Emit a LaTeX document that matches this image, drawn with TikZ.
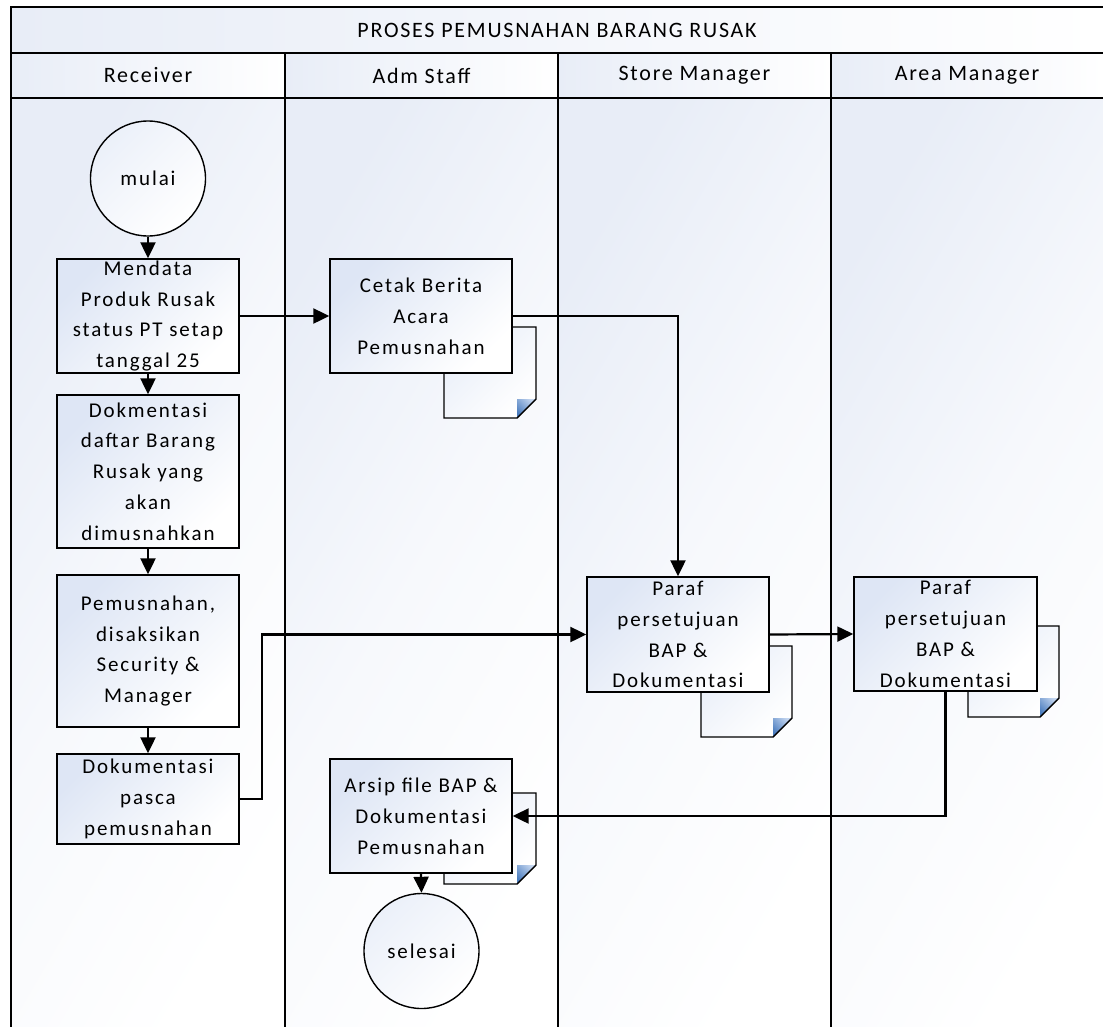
\documentclass[tikz,border=0pt]{standalone}
\usepackage{fontspec}
\setmainfont{Carlito}
\newfontfamily\boxfont[LetterSpace=9]{Carlito}
\newfontfamily\headfont[LetterSpace=8]{Carlito}
\usetikzlibrary{arrows.meta}
\definecolor{lanetint}{RGB}{232,237,247}
\definecolor{boxtint}{RGB}{222,230,245}
\definecolor{folddark}{RGB}{74,124,190}
\definecolor{foldlight}{RGB}{196,214,240}
% stacked sheet drawn behind a process box: x1,y1,x2,y2
\newcommand\docsheet[4]{%
  \path[sheetfill] (#1,#2) -- (#3,#2) -- (#3,#4-19) -- (#3-19,#4) -- (#1,#4) -- cycle;
  \path[foldfill] (#3-19,#4) -- (#3,#4-19) -- (#3-19,#4-19) -- cycle;
  \draw[sheetline] (#1,#2) -- (#3,#2) -- (#3,#4-19) -- (#3-19,#4) -- (#1,#4) -- cycle;
}
\begin{document}
\begin{tikzpicture}[x=1pt,y=-1pt,
  laneline/.style={line width=2pt,line cap=rect},
  lanebody/.style={left color=lanetint,right color=white,
    middle color=lanetint!35!white,shading angle=60},
  headcell/.style={left color=lanetint,right color=white},
  headtext/.style={font=\headfont\fontsize{22}{26}\selectfont},
  procbox/.style={draw,line width=1.4pt,inner sep=0pt,align=center,
    minimum width=182pt,
    top color=boxtint,bottom color=white,shading angle=45,
    font=\boxfont\fontsize{21}{30.8}\selectfont},
  termcircle/.style={circle,draw,line width=1.4pt,minimum size=115pt,inner sep=0pt,
    top color=boxtint!60,bottom color=white,shading angle=45,
    font=\boxfont\fontsize{21}{26}\selectfont},
  sheetfill/.style={top color=boxtint!70,bottom color=white,shading angle=45},
  foldfill/.style={top color=foldlight,bottom color=folddark,shading angle=-45},
  sheetline/.style={draw,line width=1.4pt,line join=miter},
  flow/.style={line width=2.2pt,-{Triangle[length=16pt,width=15pt]}},
]
\useasboundingbox (0,0) rectangle (1103,1026);

% swimlane backgrounds
\fill[white] (0,0) rectangle (1103,1026);
\path[headcell] (11,7) rectangle (1103,53);
\foreach \xa/\xb in {11/285,285/558,558/831,831/1103}{
  \path[headcell] (\xa,53) rectangle (\xb,98);
  \path[lanebody] (\xa,98) rectangle (\xb,1026);
}

% swimlane frame
\draw[laneline] (1103,7) -- (11,7) -- (11,1026);
\draw[laneline] (11,53) -- (1103,53);
\draw[laneline] (11,98) -- (1103,98);
\foreach \xl in {285,558,831}
  \draw[laneline] (\xl,53) -- (\xl,1026);

% titles
\node[headtext] (title) at (557,30) {PROSES PEMUSNAHAN BARANG RUSAK};
\node[headtext] (h1) at (148,75.5) {Receiver};
\node[headtext] (h2) at (421.5,75.5) {Adm Staff};
\node[headtext] (h3) at (694.5,75.5) {Store Manager};
\node[headtext] (h4) at (967,75.5) {Area Manager};

% sheets stacked behind the document boxes
\docsheet{444}{327}{536}{418}
\docsheet{701}{646}{792}{737}
\docsheet{968}{626}{1059}{717}
\docsheet{444}{793}{536}{884}

% process steps
\node[termcircle] (mulai) at (148,178.5) {mulai};
\node[procbox,minimum height=114pt] (mendata) at (148,316)
  {Mendata\\Produk Rusak\\status PT setap\\tanggal 25};
\node[procbox,minimum height=153pt] (dokmen) at (148,471.5)
  {Dokmentasi\\daftar Barang\\Rusak yang\\akan\\dimusnahkan};
\node[procbox,minimum height=152pt] (pemus) at (148,651)
  {Pemusnahan,\\disaksikan\\Security \&\\Manager};
\node[procbox,minimum height=90pt] (pasca) at (148,799)
  {Dokumentasi\\pasca\\pemusnahan};
\node[procbox,minimum height=114pt] (cetak) at (421,316)
  {Cetak Berita\\Acara\\Pemusnahan};
\node[procbox,minimum height=115pt] (parafsm) at (678,634.5)
  {Paraf\\persetujuan\\BAP \&\\Dokumentasi};
\node[procbox,minimum height=114pt,minimum width=183pt] (parafam) at (945.5,634)
  {Paraf\\persetujuan\\BAP \&\\Dokumentasi};
\node[procbox,minimum height=114pt] (arsip) at (421,816)
  {Arsip file BAP \&\\Dokumentasi\\Pemusnahan};
\node[termcircle] (selesai) at (421.5,951) {selesai};

% flow
\draw[flow] (mulai.south) -- (mendata.north);
\draw[flow] (mendata.south) -- (dokmen.north);
\draw[flow] (dokmen.south) -- (pemus.north);
\draw[flow] (pemus.south) -- (pasca.north);
\draw[flow] (mendata.east) -- (cetak.west);
\draw[flow] (cetak.east) -| (parafsm.north);
\draw[flow] (pasca.east) -- ++(22,0) |- (parafsm.west);
\draw[flow] (parafsm.east) -- (parafam.west);
\draw[flow] (parafam.south) |- (arsip.east);
\draw[flow] (arsip.south) -- (selesai.north);
\end{tikzpicture}
\end{document}
